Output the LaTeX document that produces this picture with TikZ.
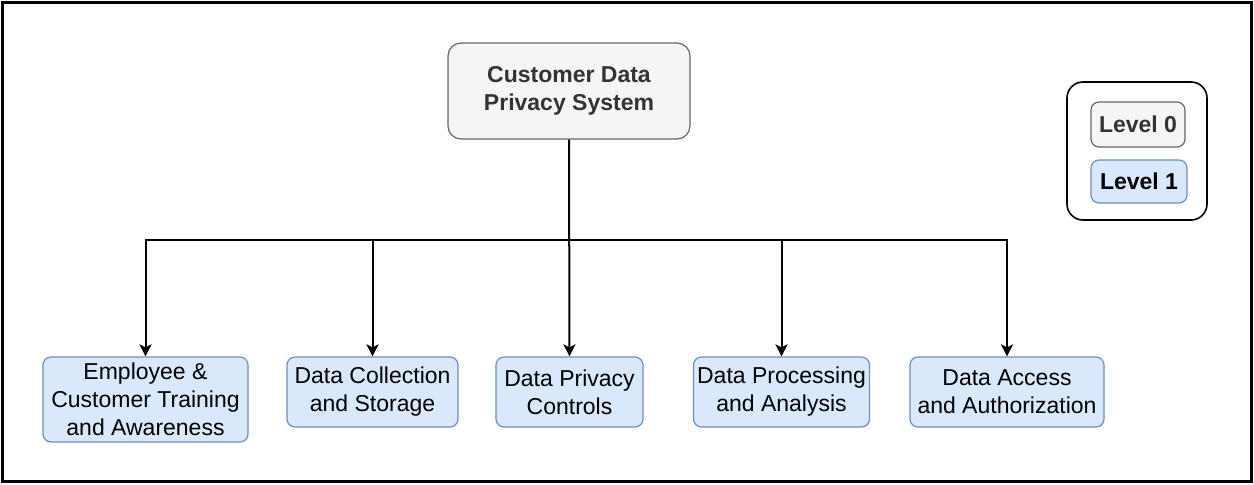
\documentclass[tikz,border=0pt]{standalone}
\usepackage{fontspec}
\setmainfont{Liberation Sans}
\usetikzlibrary{arrows.meta}
\definecolor{rootfill}{HTML}{F5F5F5}
\definecolor{rootline}{HTML}{666666}
\definecolor{roottext}{HTML}{333333}
\definecolor{subfill}{HTML}{DAE8FC}
\definecolor{subline}{HTML}{6C8EBF}
\begin{document}
\begin{tikzpicture}[x=0.5pt,y=-0.5pt,
  box/.style={draw, line width=0.6pt, align=center, inner sep=0pt,
    rounded corners=4pt, font=\fontsize{11.5}{14}\selectfont},
  rootbox/.style={box, fill=rootfill, draw=rootline, text=roottext,
    rounded corners=6.5pt, font=\fontsize{11.5}{14}\selectfont\bfseries},
  subbox/.style={box, fill=subfill, draw=subline, text=black},
  legendframe/.style={draw=black, line width=0.8pt, fill=white, rounded corners=8pt, inner sep=0pt},
  link/.style={draw=black, line width=1pt, -{Stealth[length=6pt,width=6pt,inset=1.5pt]}},
  trunk/.style={draw=black, line width=1pt}
]
\useasboundingbox (0,0) rectangle (1254,484);
\draw[line width=1.5pt] (2.5,2.5) rectangle (1251.5,481.5);

% top-level node
\node[rootbox, minimum width=121pt, minimum height=48pt] (root) at (569,91)
  {Customer Data\\Privacy System};

% second-level nodes
\node[subbox, minimum width=102.5pt, minimum height=42.5pt] (emp) at (145.5,399.5)
  {Employee \&\\Customer Training\\and Awareness};
\node[subbox, minimum width=85.5pt, minimum height=35pt] (coll) at (372.5,392)
  {Data Collection\\and Storage};
\node[subbox, minimum width=73.5pt, minimum height=35pt] (priv) at (569.5,392)
  {Data Privacy\\Controls};
\node[subbox, minimum width=88pt, minimum height=35pt] (proc) at (781.5,392)
  {Data Processing\\and Analysis};
\node[subbox, minimum width=97pt, minimum height=35pt] (acc) at (1007,392)
  {Data Access\\and Authorization};

% connectors through a shared horizontal bus
\coordinate (bus) at (569.5,240);
\draw[link] (root.south) -- (priv.north);
\draw[link] (bus) -| (emp.north);
\draw[link] (bus) -| (coll.north);
\draw[link] (bus) -| (proc.north);
\draw[link] (bus) -| (acc.north);

% legend
\node[legendframe, minimum width=70pt, minimum height=69pt] (legend) at (1137,151) {};
\node[rootbox, rounded corners=4pt, minimum width=47pt, minimum height=22.5pt] (lvl0) at (1138,124.5) {Level 0};
\node[subbox, font=\fontsize{11.5}{14}\selectfont\bfseries, minimum width=48pt, minimum height=21.5pt] (lvl1) at (1139,181.5) {Level 1};
\end{tikzpicture}
\end{document}
